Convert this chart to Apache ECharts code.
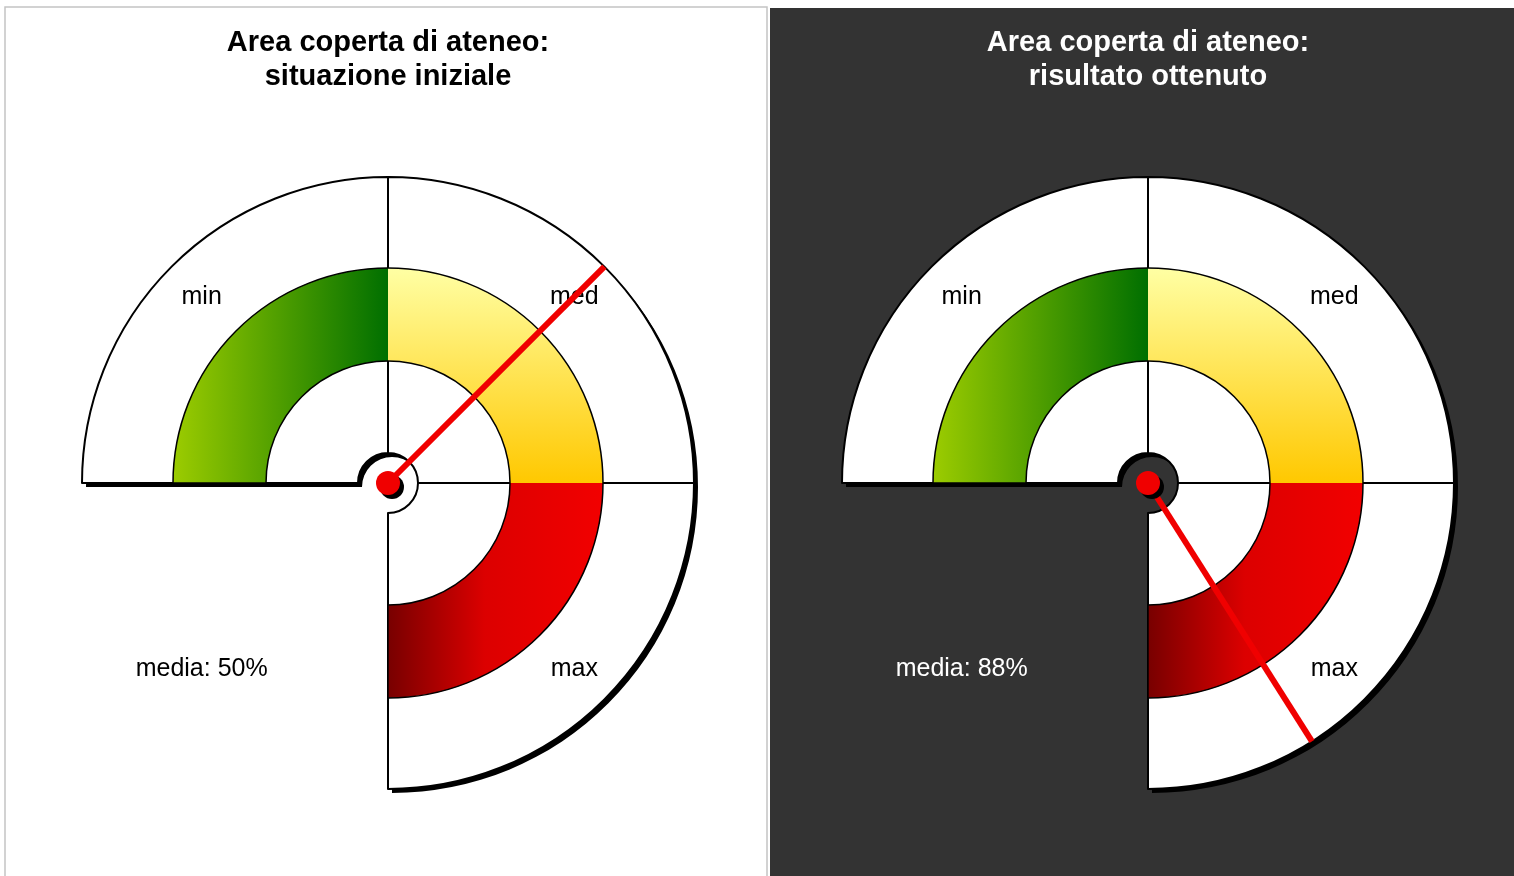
<!DOCTYPE html>
<html><head><meta charset="utf-8">
<script src="https://cdn.jsdelivr.net/npm/echarts@6/dist/echarts.min.js"></script>
<style>html,body{margin:0;padding:0;background:#fff}#chart{width:1514px;height:876px}</style>
</head><body><div id="chart"></div>
<script>
// ---- data ----
const panelTitles = ['Area coperta di ateneo:\nsituazione iniziale', 'Area coperta di ateneo:\nrisultato ottenuto'];
const bandNames = ['min', 'med', 'max'];
const bandShares = [1, 1, 1];
const gapShare = 1;
const mediaValues = [50, 88];
const mediaLabelPrefix = 'media: ';

// ---- style / layout ----
const centers = [[388, 483], [1148, 483]];
const shadowOffset = 4;
const R = 306, bandOuter = 215, bandInner = 122, hubR = 30;
const bandColors = [
  {type: 'linear', x: 0, y: 0, x2: 1, y2: 0, colorStops: [{offset: 0, color: '#9ccc00'}, {offset: 1, color: '#006f00'}]},
  {type: 'linear', x: 0, y: 0, x2: 0, y2: 1, colorStops: [{offset: 0, color: '#ffffa4'}, {offset: 1, color: '#ffc800'}]},
  {type: 'linear', x: 0, y: 0, x2: 1, y2: 0, colorStops: [{offset: 0, color: '#780000'}, {offset: 0.45, color: '#dc0000'}, {offset: 1, color: '#f20000'}]}
];
const panelText = ['#000', '#fff'];
const labelFont = {fontFamily: '"Liberation Sans", Arial, sans-serif', fontSize: 25, padding: [6, 0, 0, 0]};
const clear = 'rgba(0,0,0,0)';

const series = [];
centers.forEach((c, p) => {
  const common = {type: 'pie', center: c, startAngle: 180, clockwise: true, silent: true,
    animation: false, emphasis: {disabled: true}, label: {show: false}, labelLine: {show: false}, avoidLabelOverlap: false};
  const withGap = (arr) => arr.concat([{name: 'gap', value: gapShare, itemStyle: {color: clear, borderWidth: 0}}]);
  // drop shadow of the white ring
  series.push(Object.assign({}, common, {
    center: [c[0] + shadowOffset, c[1] + shadowOffset], radius: [hubR, R], z: 0,
    data: withGap(bandNames.map((n, i) => ({name: n, value: bandShares[i], itemStyle: {color: '#000', borderWidth: 0}})))
  }));
  // white ring
  series.push(Object.assign({}, common, {
    radius: [hubR, R], z: 1,
    data: withGap(bandNames.map((n, i) => ({name: n, value: bandShares[i],
      itemStyle: {color: '#fff', borderColor: '#000', borderWidth: 2}})))
  }));
  // colored band
  series.push(Object.assign({}, common, {
    radius: [bandInner, bandOuter], z: 2,
    data: withGap(bandNames.map((n, i) => ({name: n, value: bandShares[i], itemStyle: {color: bandColors[i], borderWidth: 0}})))
  }));
  // band outline
  series.push(Object.assign({}, common, {
    radius: [bandInner, bandOuter], z: 3,
    data: withGap([{name: 'band', value: bandShares.reduce((a, b) => a + b, 0), itemStyle: {color: clear, borderColor: '#000', borderWidth: 1.5}}])
  }));
  // labels
  series.push(Object.assign({}, common, {
    radius: [bandOuter, R], z: 4,
    label: Object.assign({show: true, position: 'inside', color: '#000'}, labelFont),
    data: bandNames.map((n, i) => ({name: n, value: bandShares[i], itemStyle: {color: clear}}))
      .concat([{name: mediaLabelPrefix + mediaValues[p] + '%', value: gapShare, itemStyle: {color: clear},
                label: {color: panelText[p]}}])
  }));
  // needle
  series.push({
    type: 'gauge', center: c, radius: R, startAngle: 180, endAngle: -90, min: 0, max: 100,
    z: 5, silent: true, animation: false,
    axisLine: {show: false}, splitLine: {show: false}, axisTick: {show: false}, axisLabel: {show: false},
    progress: {show: false}, title: {show: false}, detail: {show: false},
    pointer: {show: true, icon: 'rect', length: '100%', width: 6, itemStyle: {color: '#f00000'}},
    anchor: {show: true, showAbove: true, size: 24, itemStyle: {color: '#f00000', shadowColor: '#000', shadowBlur: 0, shadowOffsetX: 4, shadowOffsetY: 4}},
    data: [{value: mediaValues[p]}]
  });
});

const chart = echarts.init(document.getElementById('chart'), null, {renderer: 'canvas'});
chart.setOption({
  animation: false,
  graphic: [
    {type: 'rect', z: -10, shape: {x: 5, y: 7, width: 762, height: 875}, style: {fill: '#fff', stroke: '#c4c4c4', lineWidth: 1.5}},
    {type: 'rect', z: -10, shape: {x: 770, y: 8, width: 750, height: 875}, style: {fill: '#333333'}},
    {type: 'text', z: 10, x: centers[0][0], y: 26, style: {text: panelTitles[0], textAlign: 'center', textVerticalAlign: 'top',
      fill: panelText[0], font: 'bold 29px "Liberation Sans", Arial, sans-serif', lineHeight: 34}},
    {type: 'text', z: 10, x: centers[1][0], y: 26, style: {text: panelTitles[1], textAlign: 'center', textVerticalAlign: 'top',
      fill: panelText[1], font: 'bold 29px "Liberation Sans", Arial, sans-serif', lineHeight: 34}}
  ],
  series: series
});
</script></body></html>
